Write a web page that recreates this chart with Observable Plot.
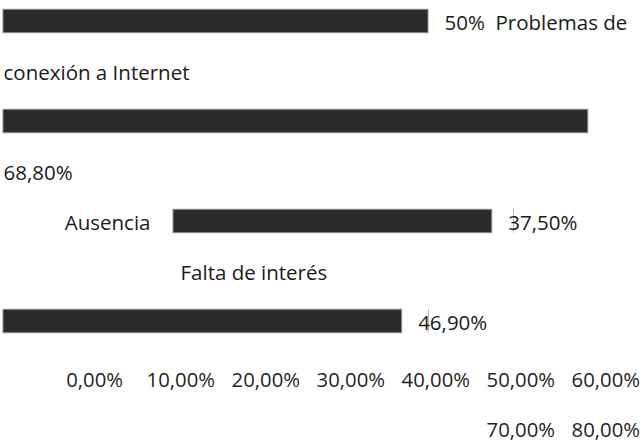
<!DOCTYPE html>
<html>
<head>
<meta charset="utf-8">
<script src="https://cdn.jsdelivr.net/npm/d3@7"></script>
<script src="https://cdn.jsdelivr.net/npm/@observablehq/plot@0.6"></script>
<style>
  body { margin: 0; background: #fff; }
  #chart { width: 644px; font-family: "Open Sans", sans-serif; color: #1f1f1f; }
  #chart svg { display: block; }
  .ticks {
    display: flex; flex-wrap: wrap; justify-content: flex-end;
    column-gap: 15px; row-gap: 22.8px;
    width: 640px; padding-right: 4px; padding-top: 10.6px;
    font-size: 20.3px; line-height: 27.4px;
  }
  .ticks span { display: block; width: 70px; text-align: right; white-space: nowrap; }
  .ticks span:first-child { margin-right: 7px; }
</style>
</head>
<body>
<div id="chart"></div>
<script>
// ---- data ----
const categories = ["Problemas de conexión a Internet", "", "Ausencia", "Falta de interés"];
const values = [50, 68.8, 37.5, 46.9];
const valueLabels = ["50%", "68,80%", "37,50%", "46,90%"];
const tickLabels = ["0,00%", "10,00%", "20,00%", "30,00%", "40,00%", "50,00%", "60,00%", "70,00%", "80,00%"];
const gridFragmentValues = [60, 50];

// ---- layout of the (re-flowed) figure ----
const barLine = [0, 2, 4, 6];       // text line on which each bar sits
const gridLine = [4, 6];
const LINES = d3.range(7);
const bars = values.map((v, i) => ({category: categories[i], value: v, label: valueLabels[i], line: barLine[i]}));
const grid = gridFragmentValues.map((v, i) => ({x: v, line: gridLine[i]}));
const isShifted = d => d.category === "Ausencia";
const SHIFT = 170;

const ink = "#1a1a1a";
const txt = {fontSize: 20.5, fontFamily: "Open Sans", fill: ink, dy: 1.5, textAnchor: "start"};
const barStyle = {fill: "#2b2b2b", stroke: "#8c8c8c", strokeWidth: 1, insetTop: 13.3, insetBottom: 13.3};

const [first, ...rest] = [categories[0].slice(0, 12), categories[0].slice(13)];

const svg = Plot.plot({
  width: 644,
  height: 355,
  margin: 0,
  x: {domain: [0, 75], range: [3, 640.5], axis: null},
  y: {type: "band", domain: LINES, range: [-6.3, 347.9], padding: 0, axis: null},
  marks: [
    Plot.barX(bars.filter(d => !isShifted(d)), {x: "value", y: "line", ...barStyle}),
    Plot.barX(bars.filter(isShifted), {x: "value", y: "line", dx: SHIFT, ...barStyle}),
    Plot.tickX(grid, {x: "x", y: "line", stroke: "#b8b8b8", strokeWidth: 1, insetTop: 13.3, insetBottom: 13.3}),
    // value labels beside bars
    Plot.text(bars.filter(d => d.line !== 2 && !isShifted(d)), {x: "value", y: "line", text: "label", ...txt, dx: 16}),
    Plot.text(bars.filter(isShifted), {x: "value", y: "line", text: "label", ...txt, dx: SHIFT + 16}),
    // wrapped value label of bar 2
    Plot.text(bars.filter(d => d.line === 2), {x: () => 0, y: () => 3, text: "label", ...txt}),
    // category labels (re-flowed)
    Plot.text([first], {x: () => values[0], y: () => 0, text: d => d, ...txt, dx: 67}),
    Plot.text(rest, {x: () => 0, y: () => 1, text: d => d, ...txt}),
    Plot.text([categories[2]], {x: () => 0, y: () => 4, text: d => d, ...txt, textAnchor: "end", dx: SHIFT - 23}),
    Plot.text([categories[3]], {x: () => 0, y: () => 5, text: d => d, ...txt, dx: 177})
  ]
});

const root = document.getElementById("chart");
root.appendChild(svg);
const ticks = document.createElement("div");
ticks.className = "ticks";
for (const t of tickLabels) {
  const s = document.createElement("span");
  s.textContent = t;
  ticks.appendChild(s);
}
root.appendChild(ticks);
</script>
</body>
</html>
